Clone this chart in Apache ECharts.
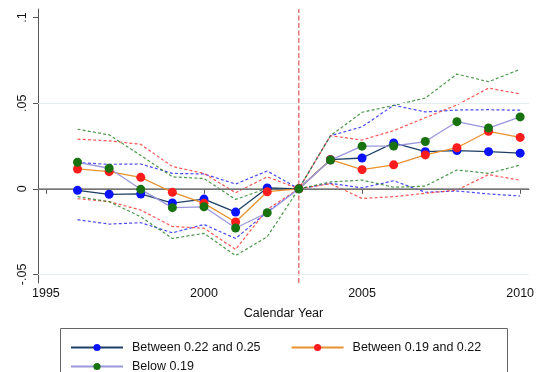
<!DOCTYPE html>
<html>
<head>
<meta charset="utf-8">
<script src="https://cdn.jsdelivr.net/npm/echarts@6/dist/echarts.min.js"></script>
<style>html,body{margin:0;padding:0;background:#fff}#c{width:542px;height:372px}</style>
</head>
<body>
<div id="c"></div>
<script>
const years = [1996,1997,1998,1999,2000,2001,2002,2003,2004,2005,2006,2007,2008,2009,2010];
const xTicks = [1995,2000,2005,2010];
const yTicks = [-0.05,0,0.05,0.1];
const yTickLabels = ['-.05','0','.05','.1'];
const names = ['Between 0.22 and 0.25','Between 0.19 and 0.22','Below 0.19'];
const eventYear = 2003;
const yMin = -0.055, yMax = 0.105;

const blue   = [-0.0009,-0.0032,-0.0030,-0.0083,-0.0060,-0.0136, 0.0005,0, 0.0170,0.0180,0.0268,0.0217,0.0223,0.0217,0.0208];
const blueUp = [ 0.0153, 0.0143, 0.0145, 0.0090, 0.0087, 0.0028, 0.0104,0, 0.0310,0.0362,0.0488,0.0449,0.0460,0.0462,0.0459];
const blueLo = [-0.0180,-0.0206,-0.0198,-0.0257,-0.0208,-0.0290,-0.0135,0, 0.0032,0.0005,0.0047,-0.0020,-0.0013,-0.0030,-0.0042];

const red    = [ 0.0116, 0.0100, 0.0067,-0.0020,-0.0085,-0.0194,-0.0017,0, 0.0170,0.0112,0.0140,0.0198,0.0240,0.0336,0.0300];
const redUp  = [ 0.0290, 0.0280, 0.0260, 0.0130, 0.0090,-0.0023, 0.0070,0, 0.0310,0.0285,0.0340,0.0415,0.0490,0.0588,0.0554];
const redLo  = [-0.0058,-0.0075,-0.0124,-0.0220,-0.0230,-0.0354,-0.0120,0, 0.0030,-0.0056,-0.0046,-0.0026,-0.0007,0.0083,0.0050];

const green   = [ 0.0155, 0.0120,-0.0003,-0.0110,-0.0105,-0.0229,-0.0140,0, 0.0168,0.0249,0.0250,0.0276,0.0392,0.0355,0.0420];
const greenUp = [ 0.0348, 0.0315, 0.0195, 0.0070, 0.0060,-0.0062, 0.0003,0, 0.0310,0.0447,0.0487,0.0530,0.0670,0.0625,0.0698];
const greenLo = [-0.0046,-0.0075,-0.0163,-0.0290,-0.0260,-0.0390,-0.0280,0, 0.0040,0.0051,0.0009,0.0016,0.0110,0.0090,0.0139];

const pair = arr => years.map((y,i)=>[y,arr[i]]);
const FONT = 'Liberation Sans, Arial, Helvetica, sans-serif';

function ci(name, arr, color){
  return {name, type:'line', data:pair(arr), symbol:'none', silent:true, z:2,
    lineStyle:{color, width:1.2, type:[3,2.2], opacity:0.85}};
}
function main(name, arr, lineColor, markColor){
  return {name, type:'line', data:pair(arr), symbol:'circle', symbolSize:9, z:5,
    lineStyle:{color:lineColor, width:1.3}, itemStyle:{color:markColor}, color:markColor};
}
function refLine(spec, style){
  return {name:'ref', type:'line', data:[], silent:true, z:1,
    markLine:{silent:true, symbol:'none', label:{show:false}, animation:false,
      lineStyle:style, data:[spec]}};
}

const option = {
  animation:false,
  backgroundColor:'#fff',
  grid:{left:38, right:13, top:9, bottom:89},
  xAxis:{type:'value', min:1994.75, max:2010.28,
    axisLine:{lineStyle:{color:'#555', width:1}},
    axisTick:{show:true, length:5, customValues:xTicks, lineStyle:{color:'#555'}},
    axisLabel:{customValues:xTicks, margin:4, color:'#111', fontSize:12.5, fontFamily:FONT, formatter:v=>String(v)},
    splitLine:{show:false},
    name:'Calendar Year', nameLocation:'middle', nameGap:24,
    nameTextStyle:{color:'#111', fontSize:12.5, fontFamily:FONT}},
  yAxis:{type:'value', min:yMin, max:yMax,
    axisLine:{show:true, lineStyle:{color:'#555', width:1}},
    axisTick:{show:true, length:5, customValues:yTicks, lineStyle:{color:'#555'}},
    axisLabel:{customValues:yTicks, rotate:90, margin:9, color:'#111', fontSize:12.5, fontFamily:FONT,
      formatter:v=>{const i=yTicks.findIndex(t=>Math.abs(t-v)<1e-9);return i>=0?yTickLabels[i]:'';}},
    splitLine:{show:false}},
  legend:[
    {data:[names[0],names[1]], left:65, top:336, itemWidth:52, itemHeight:9, itemGap:30, orient:'horizontal',
      textStyle:{fontSize:12.5, fontFamily:FONT, color:'#111', padding:[0,0,0,4]}},
    {data:[names[2]], left:65, top:355, itemWidth:52, itemHeight:9, orient:'horizontal',
      textStyle:{fontSize:12.5, fontFamily:FONT, color:'#111', padding:[0,0,0,4]}}
  ],
  graphic:[{type:'rect', shape:{x:60.5, y:328.5, width:447, height:60}, style:{fill:'none', stroke:'#666', lineWidth:1}}],
  series:[
    refLine({yAxis:0.05}, {color:'#e4edf0', width:1, type:'solid'}),
    refLine({yAxis:-0.05}, {color:'#e4edf0', width:1, type:'solid'}),
    refLine({yAxis:0}, {color:'#808080', width:1.5, type:'solid'}),
    {name:'event', type:'line', data:[[eventYear,yMin],[eventYear,yMax]], symbol:'none', silent:true, z:1,
      lineStyle:{color:'#e04848', width:1.1, type:[5,2.5]}},
    ci('blueUp', blueUp, '#2a2aff'), ci('blueLo', blueLo, '#2a2aff'),
    ci('redUp', redUp, '#ff3a3a'), ci('redLo', redLo, '#ff3a3a'),
    ci('greenUp', greenUp, '#2d862d'), ci('greenLo', greenLo, '#2d862d'),
    main(names[0], blue, '#1d3f66', '#0b12ff'),
    main(names[1], red, '#e8912e', '#ff1c1c'),
    main(names[2], green, '#9a97dc', '#17720f')
  ]
};
const chart = echarts.init(document.getElementById('c'), null, {renderer:'canvas'});
chart.setOption(option);
</script>
</body>
</html>
